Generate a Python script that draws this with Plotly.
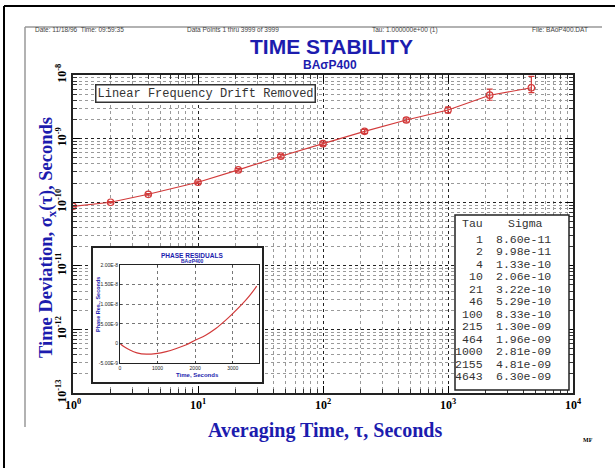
import plotly.graph_objects as go

# ---------------- data ----------------
tau = [1, 2, 4, 10, 21, 46, 100, 215, 464, 1000, 2155, 4643]
sigma = [8.60e-11, 9.98e-11, 1.33e-10, 2.06e-10, 3.22e-10, 5.29e-10,
         8.33e-10, 1.30e-9, 1.96e-9, 2.81e-9, 4.81e-9, 6.30e-9]
err_plus = [1.5e-12, 2.5e-12, 4e-12, 8e-12, 1.5e-11, 3e-11,
            5e-11, 9e-11, 1.6e-10, 3.2e-10, 1.2e-9, 3.2e-9]
err_minus = [1.5e-12, 2.5e-12, 4e-12, 8e-12, 1.5e-11, 3e-11,
             5e-11, 9e-11, 1.5e-10, 2.8e-10, 8e-10, 1.0e-9]

x_tick_vals = [1, 10, 100, 1000, 10000]
x_tick_text = ["<b>10<sup>0</sup></b>", "<b>10<sup>1</sup></b>", "<b>10<sup>2</sup></b>",
               "<b>10<sup>3</sup></b>", "<b>10<sup>4</sup></b>"]
y_tick_vals = [1e-13, 1e-12, 1e-11, 1e-10, 1e-9, 1e-8]
y_tick_text = ["<b>10<sup>-13</sup></b>", "<b>10<sup>-12</sup></b>", "<b>10<sup>-11</sup></b>",
               "<b>10<sup>-10</sup></b>", "<b>10<sup>-9</sup></b>", "<b>10<sup>-8</sup></b>"]

# inset: phase residuals
resid_t = [0, 100, 263, 450, 700, 950, 1230, 1500, 1750, 2000, 2280, 2550, 2800, 3000, 3250, 3450, 3640]
resid_v = [0, -0.8e-9, -1.7e-9, -2.4e-9, -2.75e-9, -2.6e-9, -2.1e-9, -1.3e-9, -0.4e-9,
           0.8e-9, 2.1e-9, 3.8e-9, 5.8e-9, 7.6e-9, 1.0e-8, 1.22e-8, 1.46e-8]
inset_x_ticks = [0, 1000, 2000, 3000]
inset_y_ticks = [-5e-9, 0, 5e-9, 1e-8, 1.5e-8, 2e-8]
inset_y_text = ["-5.00E-9", "0", "5.00E-9", "1.00E-8", "1.50E-8", "2.00E-8"]

header_texts = ["Date: 11/18/96  Time: 09:59:35", "Data Points 1 thru 3999 of 3999",
                "Tau: 1.000000e+00 (1)", "File: BAoP400.DAT"]

BLUE = "#1c1cae"
RED = "#d23a3a"
SERIF = "Liberation Serif"
SANS = "Liberation Sans"
MONO = "Liberation Mono"

# pixel -> paper helpers (plot area: x 73..573, y 75..393)
def px(x):
    return (x - 73) / 500.0

def py(y):
    return (393 - y) / 318.0

fig = go.Figure()

fig.add_trace(go.Scatter(
    x=tau, y=sigma, mode="lines+markers",
    line=dict(color=RED, width=1.1),
    marker=dict(symbol="circle-open", size=6.5, color=RED, line=dict(width=1.2)),
    error_y=dict(type="data", array=err_plus, arrayminus=err_minus, symmetric=False,
                 color=RED, thickness=1.2, width=3),
    showlegend=False, hoverinfo="skip"))

# box subplot for inset (white background + frame)
fig.add_trace(go.Scatter(x=[None], y=[None], xaxis="x2", yaxis="y2",
                         showlegend=False, hoverinfo="skip"))
# inset plot
fig.add_trace(go.Scatter(x=resid_t, y=resid_v, xaxis="x3", yaxis="y3", mode="lines",
                         line=dict(color=RED, width=1.2, shape="spline"),
                         showlegend=False, hoverinfo="skip"))

common_main = dict(ticks="inside", ticklen=7, tickwidth=1, tickcolor="black",
                   showline=True, linecolor="#222", linewidth=2, mirror="allticks",
                   showgrid=True, gridcolor="#222", griddash="dot", gridwidth=1,
                   minor=dict(dtick="D1", ticks="inside", ticklen=4, tickcolor="#333",
                              showgrid=True, gridcolor="#9a9a9a", griddash="dot", gridwidth=1),
                   tickfont=dict(family=SERIF, size=12, color="black"),
                   zeroline=False, automargin=False)

fig.update_layout(
    width=615, height=468,
    margin=dict(l=73, r=42, t=75, b=75),
    paper_bgcolor="white", plot_bgcolor="white",
    xaxis=dict(type="log", range=[0, 4], tickvals=x_tick_vals, ticktext=x_tick_text,
               domain=[0, 1], **common_main),
    yaxis=dict(type="log", range=[-13, -8], tickvals=y_tick_vals, ticktext=y_tick_text,
               tickangle=-90, domain=[0, 1], **common_main),
    xaxis2=dict(domain=[px(93), px(262)], anchor="y2", range=[0, 1], showgrid=False,
                zeroline=False, showticklabels=False, ticks="", showline=True,
                linecolor="#222", linewidth=1.5, mirror=True, automargin=False),
    yaxis2=dict(domain=[py(382), py(248)], anchor="x2", range=[0, 1], showgrid=False,
                zeroline=False, showticklabels=False, ticks="", showline=True,
                linecolor="#222", linewidth=1.5, mirror=True, automargin=False),
    xaxis3=dict(domain=[px(120), px(259)], anchor="y3", range=[0, 3700],
                tickvals=inset_x_ticks, ticks="inside", ticklen=2,
                showline=True, linecolor="#222", linewidth=1, mirror="ticks",
                showgrid=True, gridcolor="#777", griddash="dot", gridwidth=1,
                zeroline=False, automargin=False, ticklabelstandoff=0,
                tickfont=dict(family=SANS, size=5, color="#222")),
    yaxis3=dict(domain=[py(363), py(265)], anchor="x3", range=[-5e-9, 2e-8],
                tickvals=inset_y_ticks, ticktext=inset_y_text, ticks="inside", ticklen=2,
                showline=True, linecolor="#222", linewidth=1, mirror="ticks",
                showgrid=True, gridcolor="#777", griddash="dot", gridwidth=1,
                zeroline=False, automargin=False,
                tickfont=dict(family=SANS, size=5, color="#222")),
)

ann = []
# header line
hx = [px(33), px(185), px(370), px(530)]
for t, x in zip(header_texts, hx):
    ann.append(dict(x=x, y=py(30), xref="paper", yref="paper", text=t, showarrow=False,
                    xanchor="left", yanchor="middle", font=dict(family=SANS, size=6.5, color="#444")))
# titles
ann.append(dict(x=px(331), y=py(46.5), xref="paper", yref="paper", text="<b>TIME STABILITY</b>",
                showarrow=False, xanchor="center", yanchor="middle",
                font=dict(family=SANS, size=21, color=BLUE)))
ann.append(dict(x=px(330), y=py(65), xref="paper", yref="paper", text="<b>BAσP400</b>",
                showarrow=False, xanchor="center", yanchor="middle",
                font=dict(family=SANS, size=12, color=BLUE)))
ann.append(dict(x=px(325), y=py(430), xref="paper", yref="paper",
                text="<b>Averaging Time, τ, Seconds</b>", showarrow=False,
                xanchor="center", yanchor="middle", font=dict(family=SERIF, size=20, color=BLUE)))
ann.append(dict(x=px(47), y=py(238), xref="paper", yref="paper",
                text="<b>Time Deviation, σ<sub>x</sub>(τ), Seconds</b>", showarrow=False,
                textangle=-90, xanchor="center", yanchor="middle",
                font=dict(family=SERIF, size=18.5, color=BLUE)))
ann.append(dict(x=px(588), y=py(440), xref="paper", yref="paper", text="<b>MF</b>",
                showarrow=False, xanchor="center", yanchor="middle",
                font=dict(family=SERIF, size=6, color="black")))
# drift box
ann.append(dict(x=px(205), y=py(93), xref="paper", yref="paper",
                text="Linear Frequency Drift Removed", showarrow=False,
                xanchor="center", yanchor="middle", bgcolor="white",
                bordercolor="#333", borderwidth=1.5, borderpad=1,
                font=dict(family=MONO, size=12, color="#333")))
# table
ann.append(dict(x=px(472), y=py(223), xref="paper", yref="paper", text="Tau",
                showarrow=False, xanchor="center", yanchor="middle",
                font=dict(family=MONO, size=11.5, color="#333")))
ann.append(dict(x=px(525), y=py(223), xref="paper", yref="paper", text="Sigma",
                showarrow=False, xanchor="center", yanchor="middle",
                font=dict(family=MONO, size=11.5, color="#333")))
for i, (t, s) in enumerate(zip(tau, sigma)):
    yy = py(239 + 12.5 * i)
    ann.append(dict(x=px(485), y=yy, xref="paper", yref="paper", text=str(t),
                    showarrow=False, xanchor="right", yanchor="middle",
                    font=dict(family=MONO, size=11.5, color="#333")))
    ann.append(dict(x=px(494), y=yy, xref="paper", yref="paper", text=f"{s:.2e}",
                    showarrow=False, xanchor="left", yanchor="middle",
                    font=dict(family=MONO, size=11.5, color="#333")))
# inset texts
ann.append(dict(x=px(192), y=py(255), xref="paper", yref="paper", text="<b>PHASE RESIDUALS</b>",
                showarrow=False, xanchor="center", yanchor="middle",
                font=dict(family=SANS, size=6.5, color=BLUE)))
ann.append(dict(x=px(192), y=py(261), xref="paper", yref="paper", text="<b>BAσP400</b>",
                showarrow=False, xanchor="center", yanchor="middle",
                font=dict(family=SANS, size=5, color=BLUE)))
ann.append(dict(x=px(197), y=py(375), xref="paper", yref="paper", text="<b>Time, Seconds</b>",
                showarrow=False, xanchor="center", yanchor="middle",
                font=dict(family=SANS, size=6, color=BLUE)))
ann.append(dict(x=px(98), y=py(305), xref="paper", yref="paper", text="<b>Phase Res., Seconds</b>",
                showarrow=False, textangle=-90, xanchor="center", yanchor="middle",
                font=dict(family=SANS, size=5.5, color=BLUE)))
fig.update_layout(annotations=ann)

shapes = [
    # table box
    dict(type="rect", xref="paper", yref="paper", x0=px(455), x1=px(569), y0=py(390), y1=py(215),
         fillcolor="white", line=dict(color="#222", width=1.5), layer="above"),
    # outer page border (left/top)
    dict(type="line", xref="paper", yref="paper", x0=px(4), x1=px(4), y0=py(6), y1=py(470),
         line=dict(color="black", width=2), layer="above"),
    dict(type="line", xref="paper", yref="paper", x0=px(4), x1=px(616), y0=py(6), y1=py(6),
         line=dict(color="black", width=2), layer="above"),
    # inner gray frame (left/top)
    dict(type="line", xref="paper", yref="paper", x0=px(25), x1=px(25), y0=py(27), y1=py(427),
         line=dict(color="#999", width=1.5), layer="above"),
    dict(type="line", xref="paper", yref="paper", x0=px(25), x1=px(602), y0=py(27), y1=py(27),
         line=dict(color="#999", width=1.5), layer="above"),
]
fig.update_layout(shapes=shapes)

fig.write_html("out.html", config={"displayModeBar": False},
               post_script="document.body.style.margin='0';document.body.style.overflow='hidden';")
